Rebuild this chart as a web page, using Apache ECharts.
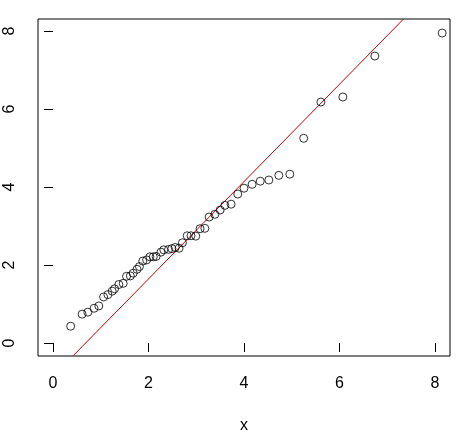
<!DOCTYPE html>
<html>
<head>
<meta charset="utf-8">
<script src="https://cdn.jsdelivr.net/npm/echarts@6/dist/echarts.min.js"></script>
<style>
html,body{margin:0;padding:0;background:#fff;}
#chart{width:470px;height:433px;}
</style>
</head>
<body>
<div id="chart"></div>
<script>
// sample values (x = theoretical, y = observed)
const xValues = [0.37,0.61,0.73,0.86,0.96,1.06,1.15,1.24,1.29,1.38,1.47,1.54,1.62,1.68,1.76,1.81,1.88,1.96,2.03,2.10,2.16,2.26,2.32,2.42,2.49,2.56,2.64,2.71,2.81,2.89,2.99,3.08,3.18,3.27,3.39,3.50,3.60,3.73,3.87,4.00,4.17,4.34,4.52,4.73,4.96,5.25,5.61,6.07,6.74,8.15];
const yValues = [0.43,0.74,0.79,0.89,0.95,1.18,1.24,1.33,1.39,1.50,1.53,1.71,1.72,1.79,1.89,1.96,2.10,2.13,2.21,2.21,2.22,2.33,2.39,2.40,2.42,2.45,2.43,2.57,2.75,2.75,2.74,2.93,2.94,3.23,3.30,3.41,3.53,3.56,3.82,3.97,4.07,4.15,4.18,4.30,4.33,5.25,6.18,6.31,7.36,7.95];
// reference line end points
const lineX = [0.42, 7.34];
const lineY = [-0.33, 8.31];
// tick labels
const xTicks = [0,2,4,6,8];
const yTicks = [0,2,4,6,8];
const xAxisTitle = 'x';

const points = xValues.map((v,i)=>[v, yValues[i]]);
const linePts = lineX.map((v,i)=>[v, lineY[i]]);

const font = 'Arial, "Liberation Sans", sans-serif';
const chart = echarts.init(document.getElementById('chart'), null, {renderer:'canvas'});
chart.setOption({
  animation:false,
  backgroundColor:'#fff',
  grid:{left:38, top:19, width:412, height:337, outerBoundsMode:'none', containLabel:false,
        show:true, borderColor:'#000', borderWidth:1, backgroundColor:'transparent'},
  xAxis:{
    type:'value', min:-0.314, max:8.314,
    name:xAxisTitle, nameLocation:'middle', nameGap:62,
    nameTextStyle:{fontFamily:font, fontSize:16, color:'#000'},
    axisLine:{show:false},
    splitLine:{show:false},
    axisTick:{show:true, length:9, lineStyle:{color:'#000'}, customValues:xTicks},
    axisLabel:{show:true, margin:20, fontFamily:font, fontSize:16, color:'#000', customValues:xTicks}
  },
  yAxis:{
    type:'value', min:-0.334, max:8.31,
    axisLine:{show:false},
    splitLine:{show:false},
    axisTick:{show:true, length:9, lineStyle:{color:'#000'}, customValues:yTicks},
    axisLabel:{show:true, rotate:90, margin:20, fontFamily:font, fontSize:16, color:'#000', customValues:yTicks}
  },
  series:[
    {type:'line', data:linePts, symbol:'none', clip:true, lineStyle:{color:'#c00000', width:1}, silent:true, z:1},
    {type:'scatter', data:points, symbol:'circle', symbolSize:8,
     itemStyle:{color:'rgba(0,0,0,0)', borderColor:'#000', borderWidth:1}, z:2}
  ]
});
</script>
</body>
</html>
